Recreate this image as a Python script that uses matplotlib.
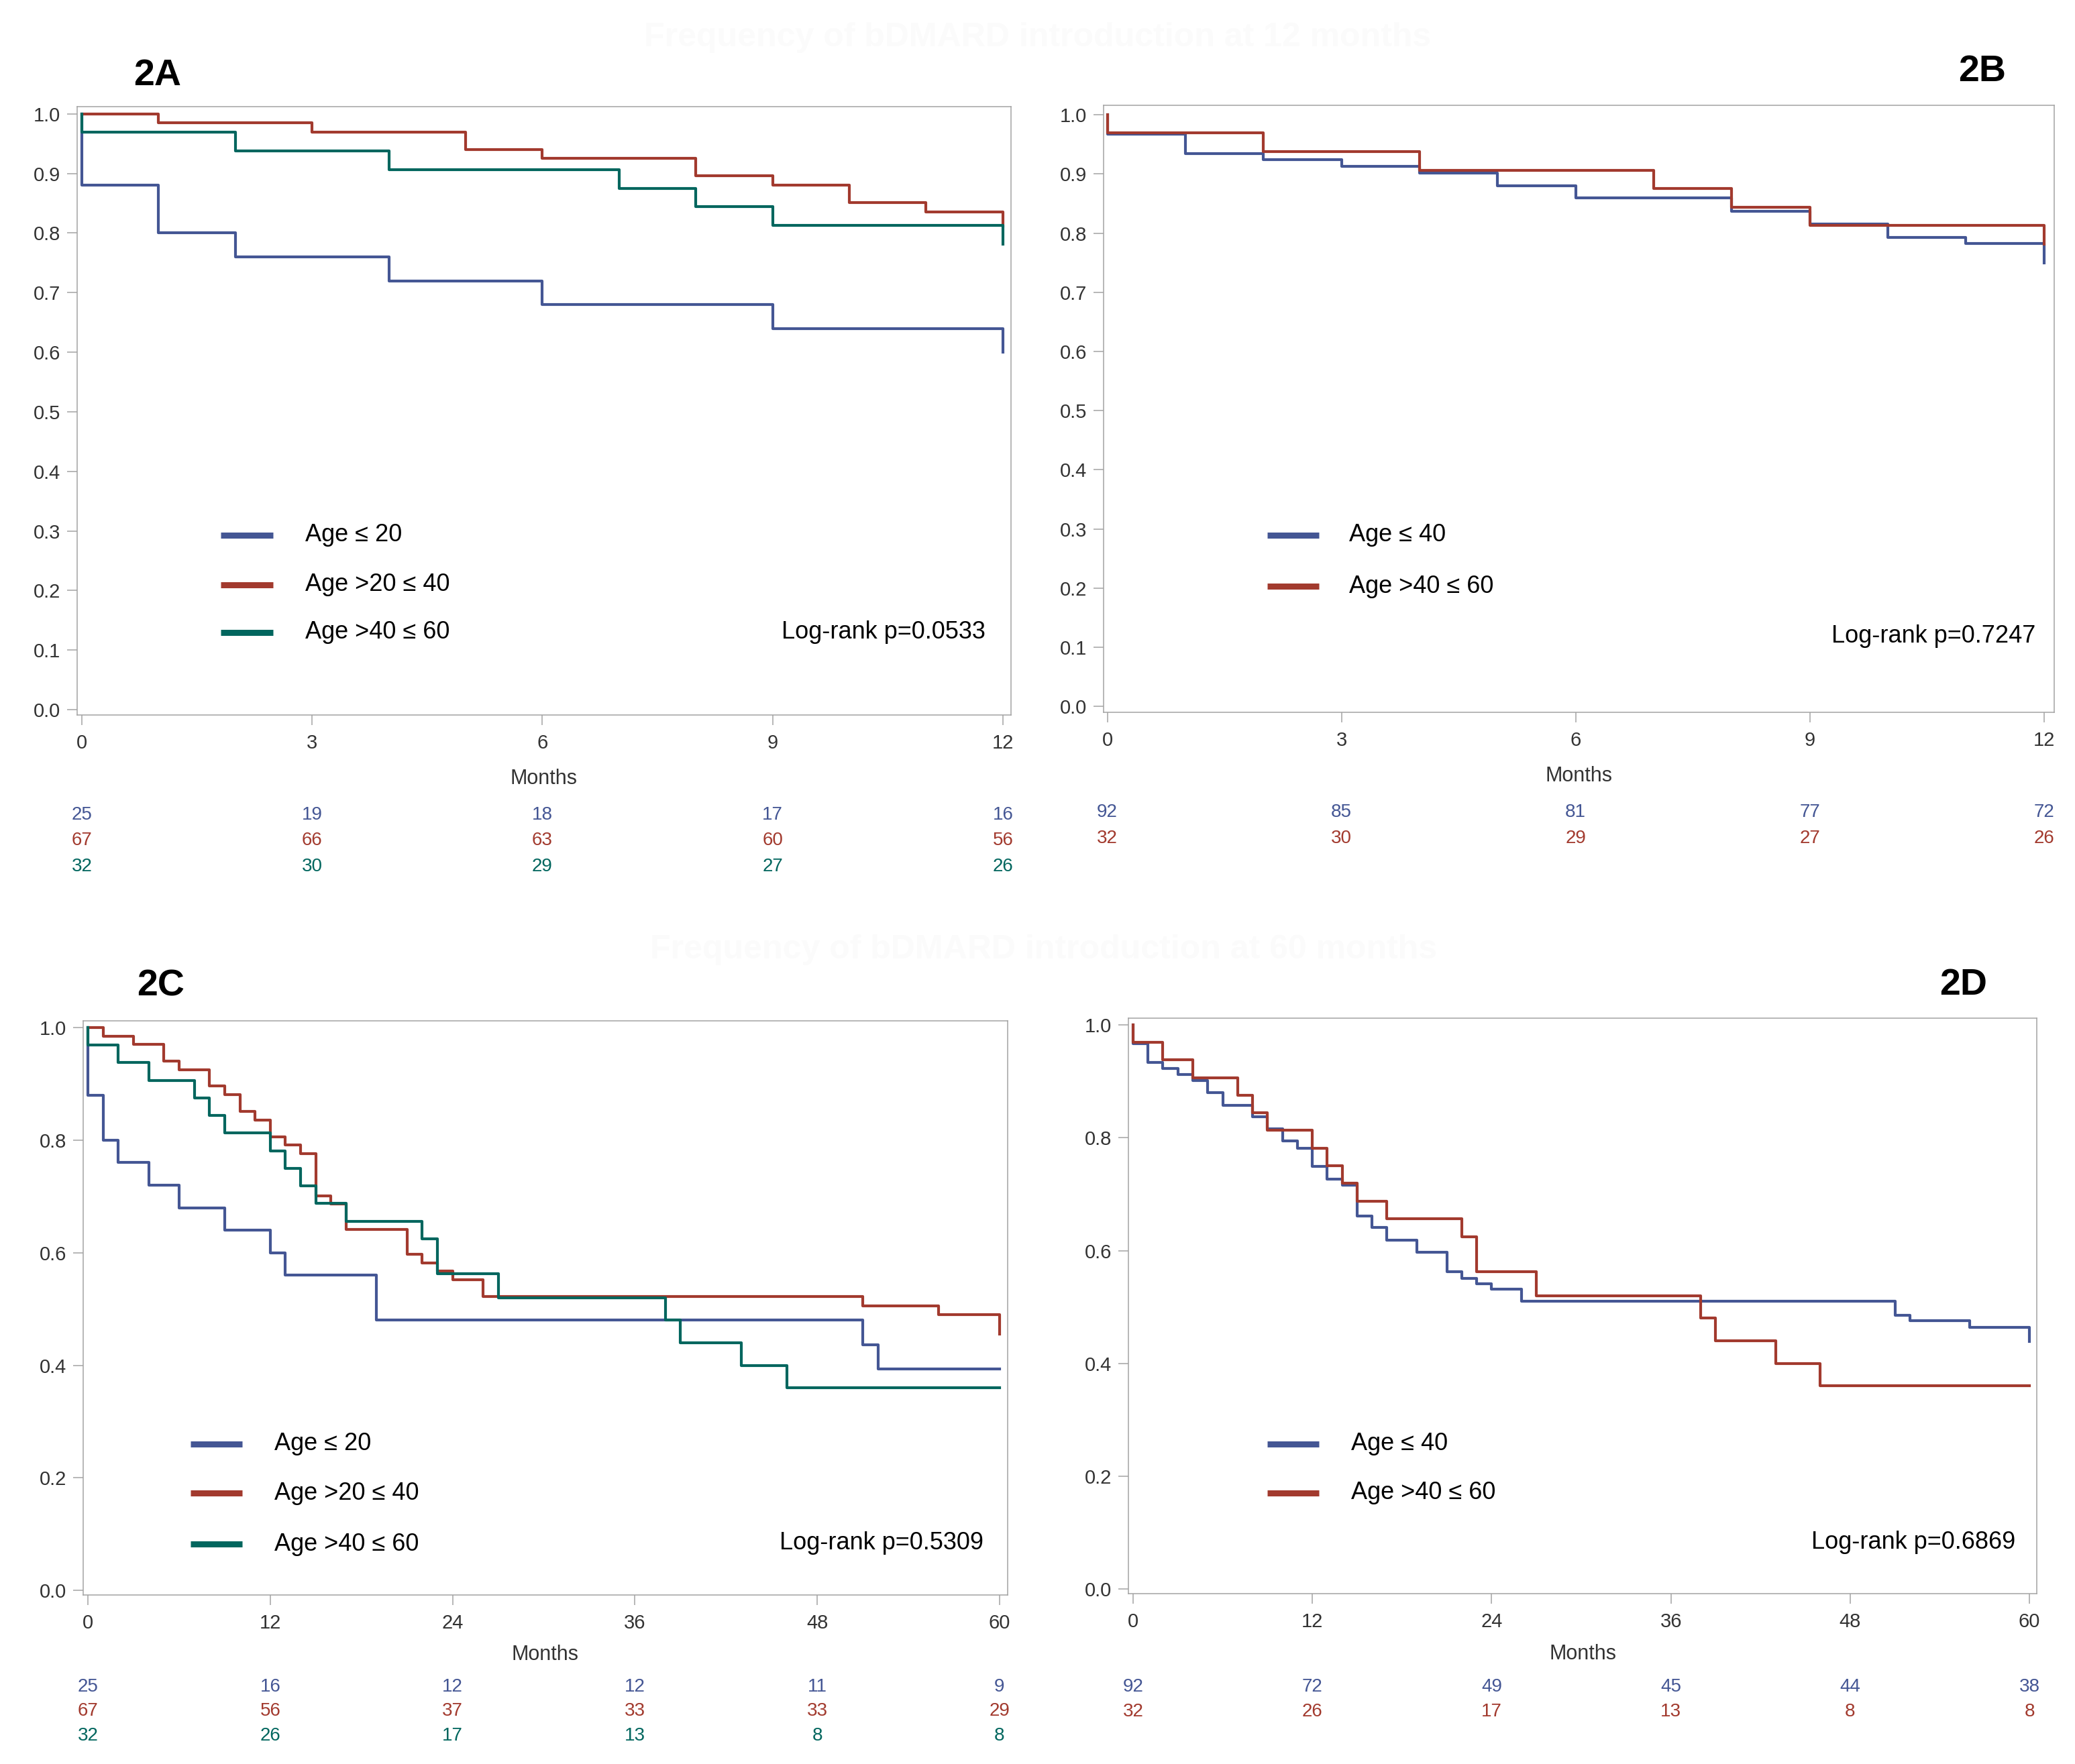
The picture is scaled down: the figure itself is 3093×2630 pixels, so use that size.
import matplotlib
matplotlib.use("Agg")
import matplotlib.pyplot as plt
from matplotlib.transforms import blended_transform_factory

plt.rcParams['font.family'] = ['Liberation Sans', 'DejaVu Sans']

BLUE = '#445694'
RED = '#A23A2E'
TEAL = '#01665E'

# ---- 2A: 12 months, three age groups ----
a_t_le20 = [0, 0, 1, 2, 4, 6, 9, 12, 12]
a_s_le20 = [1.0, 0.88, 0.80, 0.76, 0.72, 0.68, 0.64, 0.64, 0.60]
a_t_20_40 = [0, 1, 3, 5, 6, 8, 9, 10, 11, 12, 12]
a_s_20_40 = [1.0, 0.985, 0.970, 0.940, 0.925, 0.896, 0.881, 0.851, 0.836, 0.836, 0.812]
a_t_40_60 = [0, 0, 2, 4, 7, 8, 9, 12, 12]
a_s_40_60 = [1.0, 0.969, 0.938, 0.906, 0.875, 0.844, 0.813, 0.813, 0.781]
a_risk_le20 = [25, 19, 18, 17, 16]
a_risk_20_40 = [67, 66, 63, 60, 56]
a_risk_40_60 = [32, 30, 29, 27, 26]

# ---- 2B: 12 months, two age groups ----
b_t_le40 = [0, 0, 1, 2, 3, 4, 5, 6, 8, 9, 10, 11, 12, 12]
b_s_le40 = [1.0, 0.967, 0.934, 0.924, 0.913, 0.902, 0.880, 0.859, 0.837, 0.815, 0.793, 0.783, 0.783, 0.750]
b_t_40_60 = [0, 0, 2, 4, 7, 8, 9, 12, 12]
b_s_40_60 = [1.0, 0.969, 0.938, 0.906, 0.875, 0.844, 0.813, 0.813, 0.781]
b_risk_le40 = [92, 85, 81, 77, 72]
b_risk_40_60 = [32, 30, 29, 27, 26]

ticks_12 = [0, 3, 6, 9, 12]

# ---- 2C: 60 months, three age groups ----
c_t_le20 = [0, 0, 1, 2, 4, 6, 9, 12, 13, 19, 51, 52, 60]
c_s_le20 = [1.0, 0.88, 0.80, 0.76, 0.72, 0.68, 0.64, 0.60, 0.56, 0.48, 0.436, 0.393, 0.393]
c_t_20_40 = [0, 1, 3, 5, 6, 8, 9, 10, 11, 12, 13, 14, 15, 16, 17, 21, 22, 23, 24, 26, 51, 56, 60, 60]
c_s_20_40 = [1.0, 0.985, 0.970, 0.940, 0.925, 0.896, 0.881, 0.851, 0.836, 0.806, 0.791, 0.776,
             0.701, 0.687, 0.642, 0.597, 0.582, 0.567, 0.552, 0.522, 0.505, 0.490, 0.490, 0.456]
c_t_40_60 = [0, 0, 2, 4, 7, 8, 9, 12, 13, 14, 15, 17, 22, 23, 27, 38, 39, 43, 46, 60]
c_s_40_60 = [1.0, 0.969, 0.938, 0.906, 0.875, 0.844, 0.813, 0.781, 0.750, 0.719, 0.688, 0.656,
             0.625, 0.5625, 0.520, 0.480, 0.440, 0.400, 0.360, 0.360]
c_risk_le20 = [25, 16, 12, 12, 11, 9]
c_risk_20_40 = [67, 56, 37, 33, 33, 29]
c_risk_40_60 = [32, 26, 17, 13, 8, 8]

# ---- 2D: 60 months, two age groups ----
d_t_le40 = [0, 0, 1, 2, 3, 4, 5, 6, 8, 9, 10, 11, 12, 13, 14, 15, 16, 17, 19, 21, 22, 23, 24, 26,
            51, 52, 56, 60, 60]
d_s_le40 = [1.0, 0.967, 0.934, 0.923, 0.912, 0.902, 0.880, 0.858, 0.837, 0.816, 0.794, 0.781,
            0.749, 0.727, 0.716, 0.661, 0.641, 0.619, 0.597, 0.563, 0.551, 0.541, 0.532, 0.510,
            0.485, 0.476, 0.464, 0.464, 0.439]
d_t_40_60 = [0, 0, 2, 4, 7, 8, 9, 12, 13, 14, 15, 17, 22, 23, 27, 38, 39, 43, 46, 60]
d_s_40_60 = [1.0, 0.969, 0.938, 0.906, 0.875, 0.844, 0.813, 0.781, 0.750, 0.719, 0.688, 0.656,
             0.625, 0.5625, 0.520, 0.480, 0.440, 0.400, 0.360, 0.360]
d_risk_le40 = [92, 72, 49, 45, 44, 38]
d_risk_40_60 = [32, 26, 17, 13, 8, 8]

ticks_60 = [0, 12, 24, 36, 48, 60]

FRAME = '#a3a3a3'
TXT = '#333333'


def draw_panel(fig, rect, curves, xticks, xlim, ylim, yticks, legend, pval, risk_rows,
               months_y, leg_x, leg_rows, pval_pos):
    ax = fig.add_axes(rect)
    for (t, s, c) in curves:
        ax.step(t, s, where='post', color=c, lw=3.0)
    ax.set_xlim(xlim)
    ax.set_ylim(ylim)
    ax.set_xticks(xticks)
    ax.set_yticks(yticks)
    ax.set_yticklabels([f"{v:.1f}" for v in yticks])
    for sp in ax.spines.values():
        sp.set_color(FRAME)
        sp.set_linewidth(1.1)
    ax.tick_params(axis='both', colors=FRAME, labelcolor=TXT, labelsize=21,
                   length=11, width=1.1)
    ax.tick_params(axis='x', pad=9)
    ax.tick_params(axis='y', pad=7)

    # legend drawn by hand, like the SAS inset
    for (label, c), yy in zip(legend, leg_rows):
        ax.plot([leg_x[0], leg_x[1]], [yy, yy], transform=ax.transAxes, color=c,
                lw=6.5, solid_capstyle='butt')
        ax.text(leg_x[2], yy, label, transform=ax.transAxes, fontsize=26,
                ha='left', va='center', color='black')
    ax.text(pval_pos[0], pval_pos[1], pval, transform=ax.transAxes, fontsize=26,
            ha='right', va='center', color='black')

    # x axis label and number at risk
    pos = ax.get_position()
    fig.text((pos.x0 + pos.x1) / 2, months_y, 'Months', fontsize=22, color=TXT,
             ha='center', va='center')
    tr = blended_transform_factory(ax.transData, fig.transFigure)
    for (vals, c), yy in risk_rows:
        for x, v in zip(xticks, vals):
            ax.text(x, yy, str(v), transform=tr, fontsize=20, color=c,
                    ha='center', va='center')
    return ax


fig = plt.figure(figsize=(30.93, 26.30), dpi=100)

# faint titles behind the panels
fig.text(0.500, 0.9787, 'Frequency of bDMARD introduction at 12 months', fontsize=36,
         fontweight='bold', color='#fbfbfb', ha='center', va='center')
fig.text(0.503, 0.4616, 'Frequency of bDMARD introduction at 60 months', fontsize=36,
         fontweight='bold', color='#fbfbfb', ha='center', va='center')

yt_a = [0.0, 0.1, 0.2, 0.3, 0.4, 0.5, 0.6, 0.7, 0.8, 0.9, 1.0]
yt_c = [0.0, 0.2, 0.4, 0.6, 0.8, 1.0]

draw_panel(fig, [0.0372, 0.5947, 0.4500, 0.3449],
           [(a_t_le20, a_s_le20, BLUE), (a_t_20_40, a_s_20_40, RED), (a_t_40_60, a_s_40_60, TEAL)],
           ticks_12, (-0.061, 12.105), (-0.009, 1.0124), yt_a,
           [('Age ≤ 20', BLUE), ('Age >20 ≤ 40', RED), ('Age >40 ≤ 60', TEAL)],
           'Log-rank p=0.0533',
           [((a_risk_le20, BLUE), 0.5380), ((a_risk_20_40, RED), 0.5236), ((a_risk_40_60, TEAL), 0.5087)],
           0.5586, (0.1537, 0.2098, 0.2443), (0.2955, 0.2139, 0.1356), (0.9727, 0.1356))

draw_panel(fig, [0.5318, 0.5962, 0.4581, 0.3441],
           [(b_t_le40, b_s_le40, BLUE), (b_t_40_60, b_s_40_60, RED)],
           ticks_12, (-0.05, 12.13), (-0.010, 1.016), yt_a,
           [('Age ≤ 40', BLUE), ('Age >40 ≤ 60', RED)],
           'Log-rank p=0.7247',
           [((b_risk_le40, BLUE), 0.5395), ((b_risk_40_60, RED), 0.5247)],
           0.5601, (0.1724, 0.2268, 0.2583), (0.2920, 0.2077), (0.9810, 0.1250))

draw_panel(fig, [0.0401, 0.0958, 0.4455, 0.3255],
           [(c_t_le20, c_s_le20, BLUE), (c_t_20_40, c_s_20_40, RED), (c_t_40_60, c_s_40_60, TEAL)],
           ticks_60, (-0.31, 60.53), (-0.008, 1.012), yt_c,
           [('Age ≤ 20', BLUE), ('Age >20 ≤ 40', RED), ('Age >40 ≤ 60', TEAL)],
           'Log-rank p=0.5309',
           [((c_risk_le20, BLUE), 0.0437), ((c_risk_20_40, RED), 0.0300), ((c_risk_40_60, TEAL), 0.0160)],
           0.0620, (0.1161, 0.1720, 0.2068), (0.2629, 0.1776, 0.0888), (0.9739, 0.0911))

draw_panel(fig, [0.5438, 0.0966, 0.4378, 0.3262],
           [(d_t_le40, d_s_le40, BLUE), (d_t_40_60, d_s_40_60, RED)],
           ticks_60, (-0.31, 60.49), (-0.008, 1.012), yt_c,
           [('Age ≤ 40', BLUE), ('Age >40 ≤ 60', RED)],
           'Log-rank p=0.6869',
           [((d_risk_le40, BLUE), 0.0437), ((d_risk_40_60, RED), 0.0297)],
           0.0624, (0.1529, 0.2097, 0.2452), (0.2599, 0.1748), (0.9764, 0.0886))

# panel letters
fig.text(0.0757, 0.9570, '2A', fontsize=40, fontweight='bold', ha='center', va='center')
fig.text(0.9554, 0.9593, '2B', fontsize=40, fontweight='bold', ha='center', va='center')
fig.text(0.0776, 0.4407, '2C', fontsize=40, fontweight='bold', ha='center', va='center')
fig.text(0.9463, 0.4414, '2D', fontsize=40, fontweight='bold', ha='center', va='center')

fig.savefig('out.png', dpi=100, facecolor='white')
